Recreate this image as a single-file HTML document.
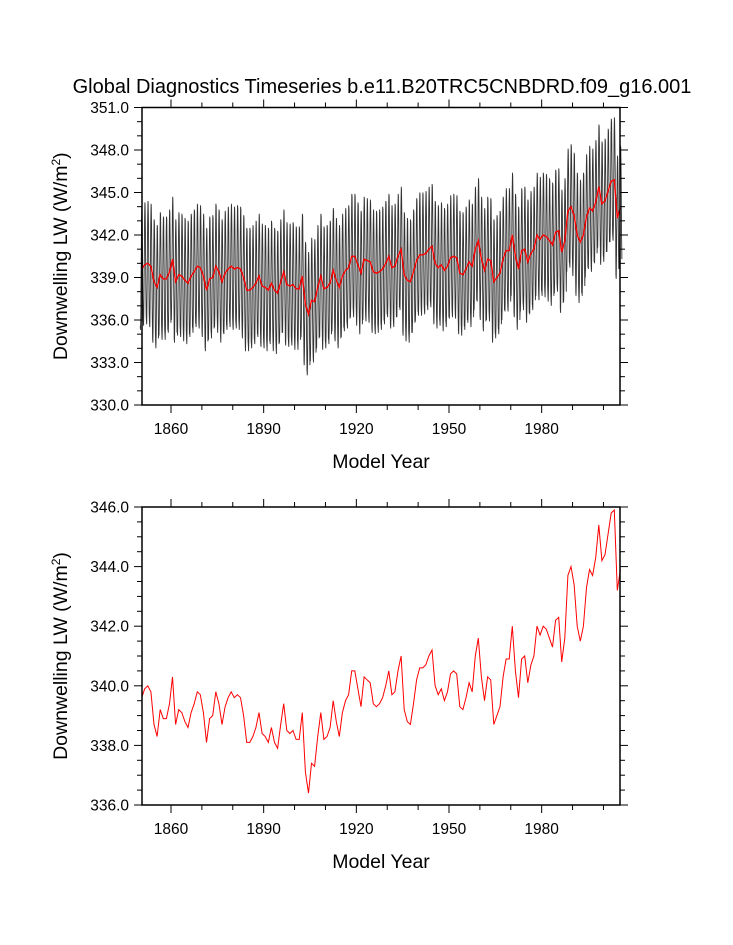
<!DOCTYPE html>
<html><head><meta charset="utf-8"><style>
body{margin:0;background:#fff}
svg{display:block;font-family:"Liberation Sans",sans-serif}
</style></head><body>
<svg id="chart" width="733" height="945" viewBox="0 0 733 945">
<text x="382" y="93" font-size="20" text-anchor="middle">Global Diagnostics Timeseries b.e11.B20TRC5CNBDRD.f09_g16.001</text>
<g id="top"></g>
<g id="bot"></g>
</svg>
<script>
const startYear = 1850;
const annualLW = [339.6,339.9,340.0,339.8,338.7,338.3,339.2,338.9,338.9,339.4,
340.3,338.7,339.2,339.1,338.8,338.6,339.1,339.4,339.8,339.7,
339.1,338.1,338.9,339.0,339.8,339.4,338.7,339.3,339.6,339.8,
339.6,339.7,339.6,339.0,338.1,338.1,338.3,338.6,339.1,338.4,
338.3,338.1,338.6,338.1,337.9,338.7,339.4,338.5,338.4,338.5,
338.2,338.2,339.1,337.1,336.4,337.4,337.3,338.3,339.1,338.2,
338.3,338.6,339.5,338.8,338.3,339.1,339.5,339.7,340.5,340.5,
339.9,339.3,340.3,340.2,340.1,339.4,339.3,339.4,339.6,340.0,
340.5,339.7,339.8,340.5,341.0,339.2,338.8,338.7,339.4,340.2,
340.6,340.6,340.7,341.0,341.2,340.0,339.7,339.9,339.5,339.8,
340.4,340.5,340.4,339.3,339.2,339.6,340.1,339.8,341.0,341.6,
340.3,339.5,340.3,340.2,338.7,339.0,339.3,340.3,340.9,340.9,
342.0,340.5,339.6,340.9,341.0,340.1,340.7,341.0,342.0,341.7,
342.0,341.9,341.6,341.3,342.2,342.3,340.8,341.6,343.7,344.0,
343.4,342.0,341.5,342.0,343.3,343.9,343.7,344.3,345.4,344.2,
344.4,345.1,345.8,345.9,343.2,343.9];
const seasonalCycle = [-4.0,-4.3,-3.2,-1.0,1.2,3.3,4.4,4.2,2.6,0.4,-2.0,-3.6];
const xTickLabels = [1860,1890,1920,1950,1980];
const topYTicks = [330,333,336,339,342,345,348,351];
const botYTicks = [336,338,340,342,344,346];

const NS="http://www.w3.org/2000/svg";
function mk(tag,attrs,parent){const e=document.createElementNS(NS,tag);for(const k in attrs)e.setAttribute(k,attrs[k]);parent.appendChild(e);return e;}
const L=142,R=620;
function xs(yr){return 171+(yr-1860)*3.0889;}

function panel(g,top,bot,ymin,ymax,yTicks,minorStep,drawMonthly){
  const ys=v=>bot-(v-ymin)/(ymax-ymin)*(bot-top);
  if(drawMonthly){
    let d="";
    annualLW.forEach((v,i)=>{seasonalCycle.forEach((s,m)=>{
      const yr=startYear+i+(m+0.5)/12;
      d+=(d?"L":"M")+xs(yr).toFixed(1)+","+ys(v+s).toFixed(1);
    });});
    const p=mk("path",{d:d,fill:"none",stroke:"#000","stroke-width":"0.9","stroke-opacity":"0.8"},g);
    
    
  }
  let d2="";
  annualLW.forEach((v,i)=>{d2+=(d2?"L":"M")+xs(startYear+i+0.5).toFixed(1)+","+ys(v).toFixed(1);});
  const r=mk("path",{d:d2,fill:"none",stroke:"#ff0000","stroke-width":drawMonthly?"1.4":"1"},g);
  
  
  const f=mk("rect",{x:L,y:top,width:R-L,height:bot-top,fill:"none",stroke:"#000","stroke-width":"1.5"},g);
  
  
  for(let v=ymin;v<=ymax+1e-6;v+=minorStep){
    const major=yTicks.some(t=>Math.abs(t-v)<1e-6);
    const y=ys(v),len=major?8:5;
    mk("line",{x1:L-len,x2:L,y1:y,y2:y,stroke:"#000","stroke-width":"1"},g);
    mk("line",{x1:R,x2:R+len,y1:y,y2:y,stroke:"#000","stroke-width":"1"},g);
  }
  yTicks.forEach(v=>{
    const t=mk("text",{x:L-13,y:ys(v)+5.5,"font-size":"15.5","text-anchor":"end"},g);
    t.textContent=v.toFixed(1);
    
    
  });
  for(let yr=1860;yr<=2000;yr+=10){
    const major=xTickLabels.includes(yr);
    const x=xs(yr),len=major?8:5;
    mk("line",{x1:x,x2:x,y1:bot,y2:bot+len,stroke:"#000","stroke-width":"1"},g);
    mk("line",{x1:x,x2:x,y1:top-len,y2:top,stroke:"#000","stroke-width":"1"},g);
  }
  xTickLabels.forEach(yr=>{
    const t=mk("text",{x:xs(yr),y:bot+29,"font-size":"15.5","text-anchor":"middle"},g);
    t.textContent=yr;
    
    
  });
  const xt=mk("text",{x:381,y:bot+63,"font-size":"19.5","text-anchor":"middle"},g);
  xt.textContent="Model Year";
  
  
  const cy=(top+bot)/2;
  const yt=mk("text",{x:0,y:0,"font-size":"19.5","text-anchor":"middle",transform:`translate(67,${cy}) rotate(-90)`},g);
  yt.innerHTML='Downwelling LW (W/m<tspan dy="-7" font-size="12">2</tspan><tspan dy="7">)</tspan>';
  
  
}
panel(document.getElementById('top'),107.5,405,330,351,topYTicks,1,true);
panel(document.getElementById('bot'),507,805,336,346,botYTicks,0.5,false);
</script>
</body></html>
